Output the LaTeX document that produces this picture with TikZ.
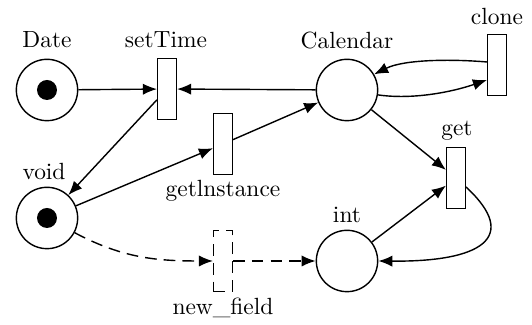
\documentclass[tikz,border=0pt]{standalone}
\usetikzlibrary{arrows.meta,calc}
\begin{document}
\begin{tikzpicture}[x=0.015cm,y=-0.015cm,line width=0.6pt,
  place/.style={circle,draw,minimum size=0.92cm,inner sep=0pt},
  trans/.style={rectangle,draw,minimum width=0.28cm,minimum height=0.92cm,inner sep=0pt},
  token/.style={circle,fill,minimum size=0.3cm,inner sep=0pt},
  lbl/.style={anchor=base,inner sep=0pt},
  arc/.style={-{Latex[length=6pt,width=4.8pt]}},
  dashline/.style={dash pattern=on 5pt off 3pt}]
\useasboundingbox (0,0) rectangle (532,325);

% places
\node[place] (date) at (47,90) {};
\node[token] (datetok) at (date) {};
\node[place] (calendar) at (347,90) {};
\node[place] (void) at (47,218) {};
\node[token] (voidtok) at (void) {};
\node[place] (int) at (347,261) {};

% transitions
\node[trans] (settime) at (167,89) {};
\node[trans] (clone) at (497,65) {};
\node[trans] (getinst) at (223,144) {};
\node[trans] (get) at (456,178) {};
\node[trans,dashline] (newfield) at (223,261) {};

% labels
\node[lbl] (datel) at (47,48) {Date};
\node[lbl] (settimel) at (166,48) {setTime};
\node[lbl] (calendarl) at (347,49) {Calendar};
\node[lbl] (clonel) at (497,25) {clone};
\node[lbl] (getl) at (457,136) {get};
\node[lbl] (voidl) at (44,180) {void};
\node[lbl] (getinstl) at (223,197) {getlnstance};
\node[lbl] (intl) at (347,223) {int};
\node[lbl] (newfieldl) at (223,315) {new\_field};

% arcs
\draw[arc] (date) -- (settime);
\draw[arc] (calendar) -- (settime);
\draw[arc] (settime) -- (void);
\draw[arc] (void) -- (getinst);
\draw[arc] (getinst) -- (calendar);
\draw[arc] (calendar.-9) .. controls +(35,5) and +(-35,12) .. ($(clone.west)+(0,15)$);
\draw[arc] ($(clone.west)+(0,-3)$) .. controls +(-35,-3) and +(30,-15) .. (calendar.30);
\draw[arc] (calendar) -- (get);
\draw[arc] (int) -- (get);
\draw[arc] ($(get.east)+(0,9)$) .. controls +(55,51) and +(102,1) .. (int.east);
\draw[arc,dashline] (void) to[out=-28,in=180] (newfield);
\draw[arc,dashline] (newfield) -- (int);
\end{tikzpicture}
\end{document}
